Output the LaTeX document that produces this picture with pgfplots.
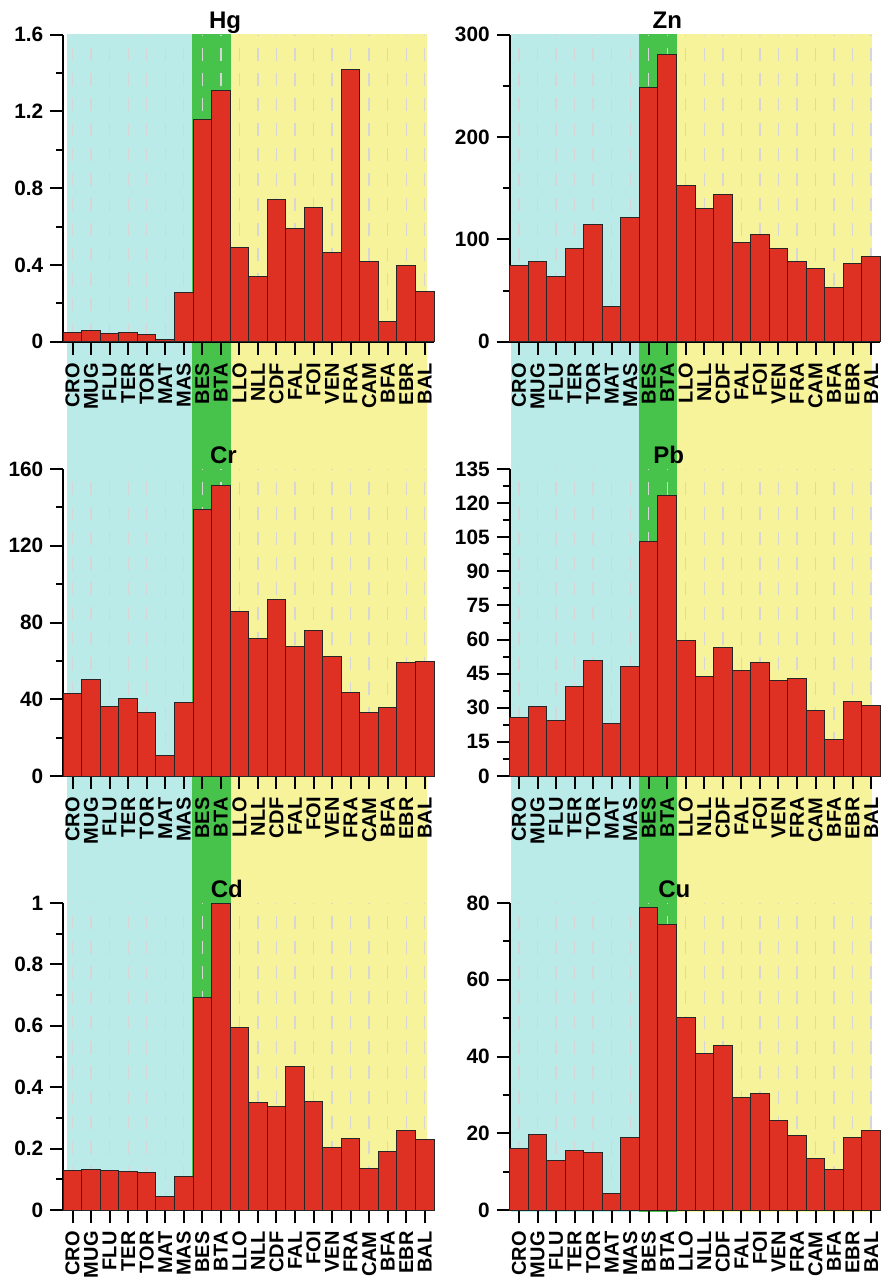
\documentclass[border=0pt]{standalone}
\usepackage{fontspec}
\setmainfont{Liberation Sans}
\usepackage{pgfplots}
\pgfplotsset{compat=1.18}
\definecolor{bgcyan}{RGB}{186,235,233}
\definecolor{bggreen}{RGB}{71,194,75}
\definecolor{bgyellow}{RGB}{247,243,155}
\definecolor{barred}{RGB}{222,49,36}
\definecolor{gridc}{RGB}{214,214,214}
\tikzset{ttl/.style={font=\bfseries\fontsize{12}{14}\selectfont, anchor=base, yshift=3pt}}
\pgfplotsset{
  panel/.style={
    scale only axis, width=185.35pt, height=153.5pt, anchor=south west,
    xmin=-0.5, xmax=19.5, ymin=0, clip=false,
    axis lines=left, axis line style={-, line width=1pt, black},
    tick align=outside, major tick length=6.5pt, minor tick length=3.5pt,
    tick style={black, line width=1pt},
    xtick={0,...,19},
    xticklabels={CRO,MUG,FLU,TER,TOR,MAT,MAS,BES,BTA,LLO,NLL,CDF,FAL,FOI,VEN,FRA,CAM,BFA,EBR,BAL},
    xticklabel style={rotate=90, anchor=east, font=\bfseries\fontsize{10}{12}\selectfont, inner sep=0pt},
    xticklabel shift=4pt,
    yticklabel style={font=\bfseries\fontsize{10.4}{12}\selectfont},
    minor y tick num=1,
    xmajorgrids, major x grid style={gridc, line width=0.65pt, dash pattern=on 6.5pt off 6pt, dash phase=9.6pt},
    /pgf/number format/assume math mode=true,
  },
  bars/.style={ybar, bar width=1, fill=barred, draw=black!85, line width=0.5pt},
  bgax/.style={scale only axis, width=185.35pt, anchor=south west, xmin=-0.5, xmax=19.5, ymin=0, ymax=1, hide axis},
}
\begin{document}
\begin{tikzpicture}
\path[use as bounding box] (0,0) rectangle (440pt,-638.5pt);
% backgrounds
\begin{axis}[bgax, at={(31.65pt,-605pt)}, height=587.75pt]
\fill[bgcyan] (axis cs:-0.32,0) rectangle (axis cs:6.44,1);
\fill[bggreen] (axis cs:6.44,0) rectangle (axis cs:8.55,1);
\fill[bgyellow] (axis cs:8.55,0) rectangle (axis cs:19.13,1);
\end{axis}
\begin{axis}[bgax, at={(254.85pt,-605.85pt)}, height=588.7pt]
\fill[bgcyan] (axis cs:-0.43,0) rectangle (axis cs:6.48,1);
\fill[bggreen] (axis cs:6.48,0) rectangle (axis cs:8.51,1);
\fill[bgyellow] (axis cs:8.51,0) rectangle (axis cs:19.07,1);
\end{axis}
% Hg
\begin{axis}[panel, at={(31.65pt,-170.85pt)}, ymax=1.6, ytick={0,0.4,0.8,1.2,1.6}]
\addplot[bars] coordinates {(0,0.049) (1,0.056) (2,0.045) (3,0.050) (4,0.038) (5,0.012) (6,0.257) (7,1.160) (8,1.311) (9,0.490) (10,0.341) (11,0.743) (12,0.590) (13,0.701) (14,0.463) (15,1.416) (16,0.419) (17,0.103) (18,0.398) (19,0.263)};
\node[ttl] at (axis cs:8.23,1.6) {Hg};
\end{axis}
% Zn
\begin{axis}[panel, at={(254.85pt,-170.85pt)}, ymax=300, ytick={0,100,200,300}]
\addplot[bars] coordinates {(0,74.2) (1,78.4) (2,64.1) (3,91.4) (4,114.2) (5,34.8) (6,121.4) (7,248.3) (8,280.8) (9,152.6) (10,130.2) (11,143.8) (12,97.0) (13,104.5) (14,91.1) (15,78.4) (16,71.6) (17,52.7) (18,76.8) (19,83.3)};
\node[ttl] at (axis cs:8.0,300) {Zn};
\end{axis}
% Cr
\begin{axis}[panel, at={(31.65pt,-388pt)}, ymax=160, ytick={0,40,80,120,160}]
\addplot[bars] coordinates {(0,43.1) (1,50.4) (2,36.2) (3,40.5) (4,33.2) (5,10.8) (6,38.1) (7,139.1) (8,151.3) (9,85.7) (10,71.7) (11,91.8) (12,67.5) (13,75.8) (14,62.4) (15,43.7) (16,32.9) (17,35.8) (18,59.1) (19,59.8)};
\node[ttl] at (axis cs:8.14,160) {Cr};
\end{axis}
% Pb
\begin{axis}[panel, at={(254.85pt,-388pt)}, ymax=135, ytick={0,15,30,45,60,75,90,105,120,135}]
\addplot[bars] coordinates {(0,25.8) (1,30.5) (2,24.4) (3,39.5) (4,50.9) (5,23.0) (6,48.1) (7,103.0) (8,123.4) (9,59.6) (10,43.7) (11,56.6) (12,46.5) (13,50.0) (14,42.0) (15,42.7) (16,28.8) (17,16.1) (18,32.6) (19,30.8)};
\node[ttl] at (axis cs:8.08,135) {Pb};
\end{axis}
% Cd
\begin{axis}[panel, at={(31.65pt,-605pt)}, ymax=1, ytick={0,0.2,0.4,0.6,0.8,1}]
\addplot[bars] coordinates {(0,0.130) (1,0.132) (2,0.128) (3,0.124) (4,0.123) (5,0.045) (6,0.109) (7,0.692) (8,0.997) (9,0.594) (10,0.351) (11,0.338) (12,0.467) (13,0.353) (14,0.205) (15,0.233) (16,0.135) (17,0.191) (18,0.260) (19,0.231)};
\node[ttl] at (axis cs:8.32,1) {Cd};
\end{axis}
% Cu
\begin{axis}[panel, at={(254.85pt,-605pt)}, ymax=80, ytick={0,20,40,60,80}]
\addplot[bars] coordinates {(0,16.1) (1,19.6) (2,13.0) (3,15.6) (4,15.1) (5,4.3) (6,18.9) (7,78.9) (8,74.5) (9,50.2) (10,40.9) (11,43.0) (12,29.3) (13,30.3) (14,23.3) (15,19.5) (16,13.5) (17,10.6) (18,18.8) (19,20.6)};
\node[ttl] at (axis cs:8.38,80) {Cu};
\end{axis}
\end{tikzpicture}
\end{document}
